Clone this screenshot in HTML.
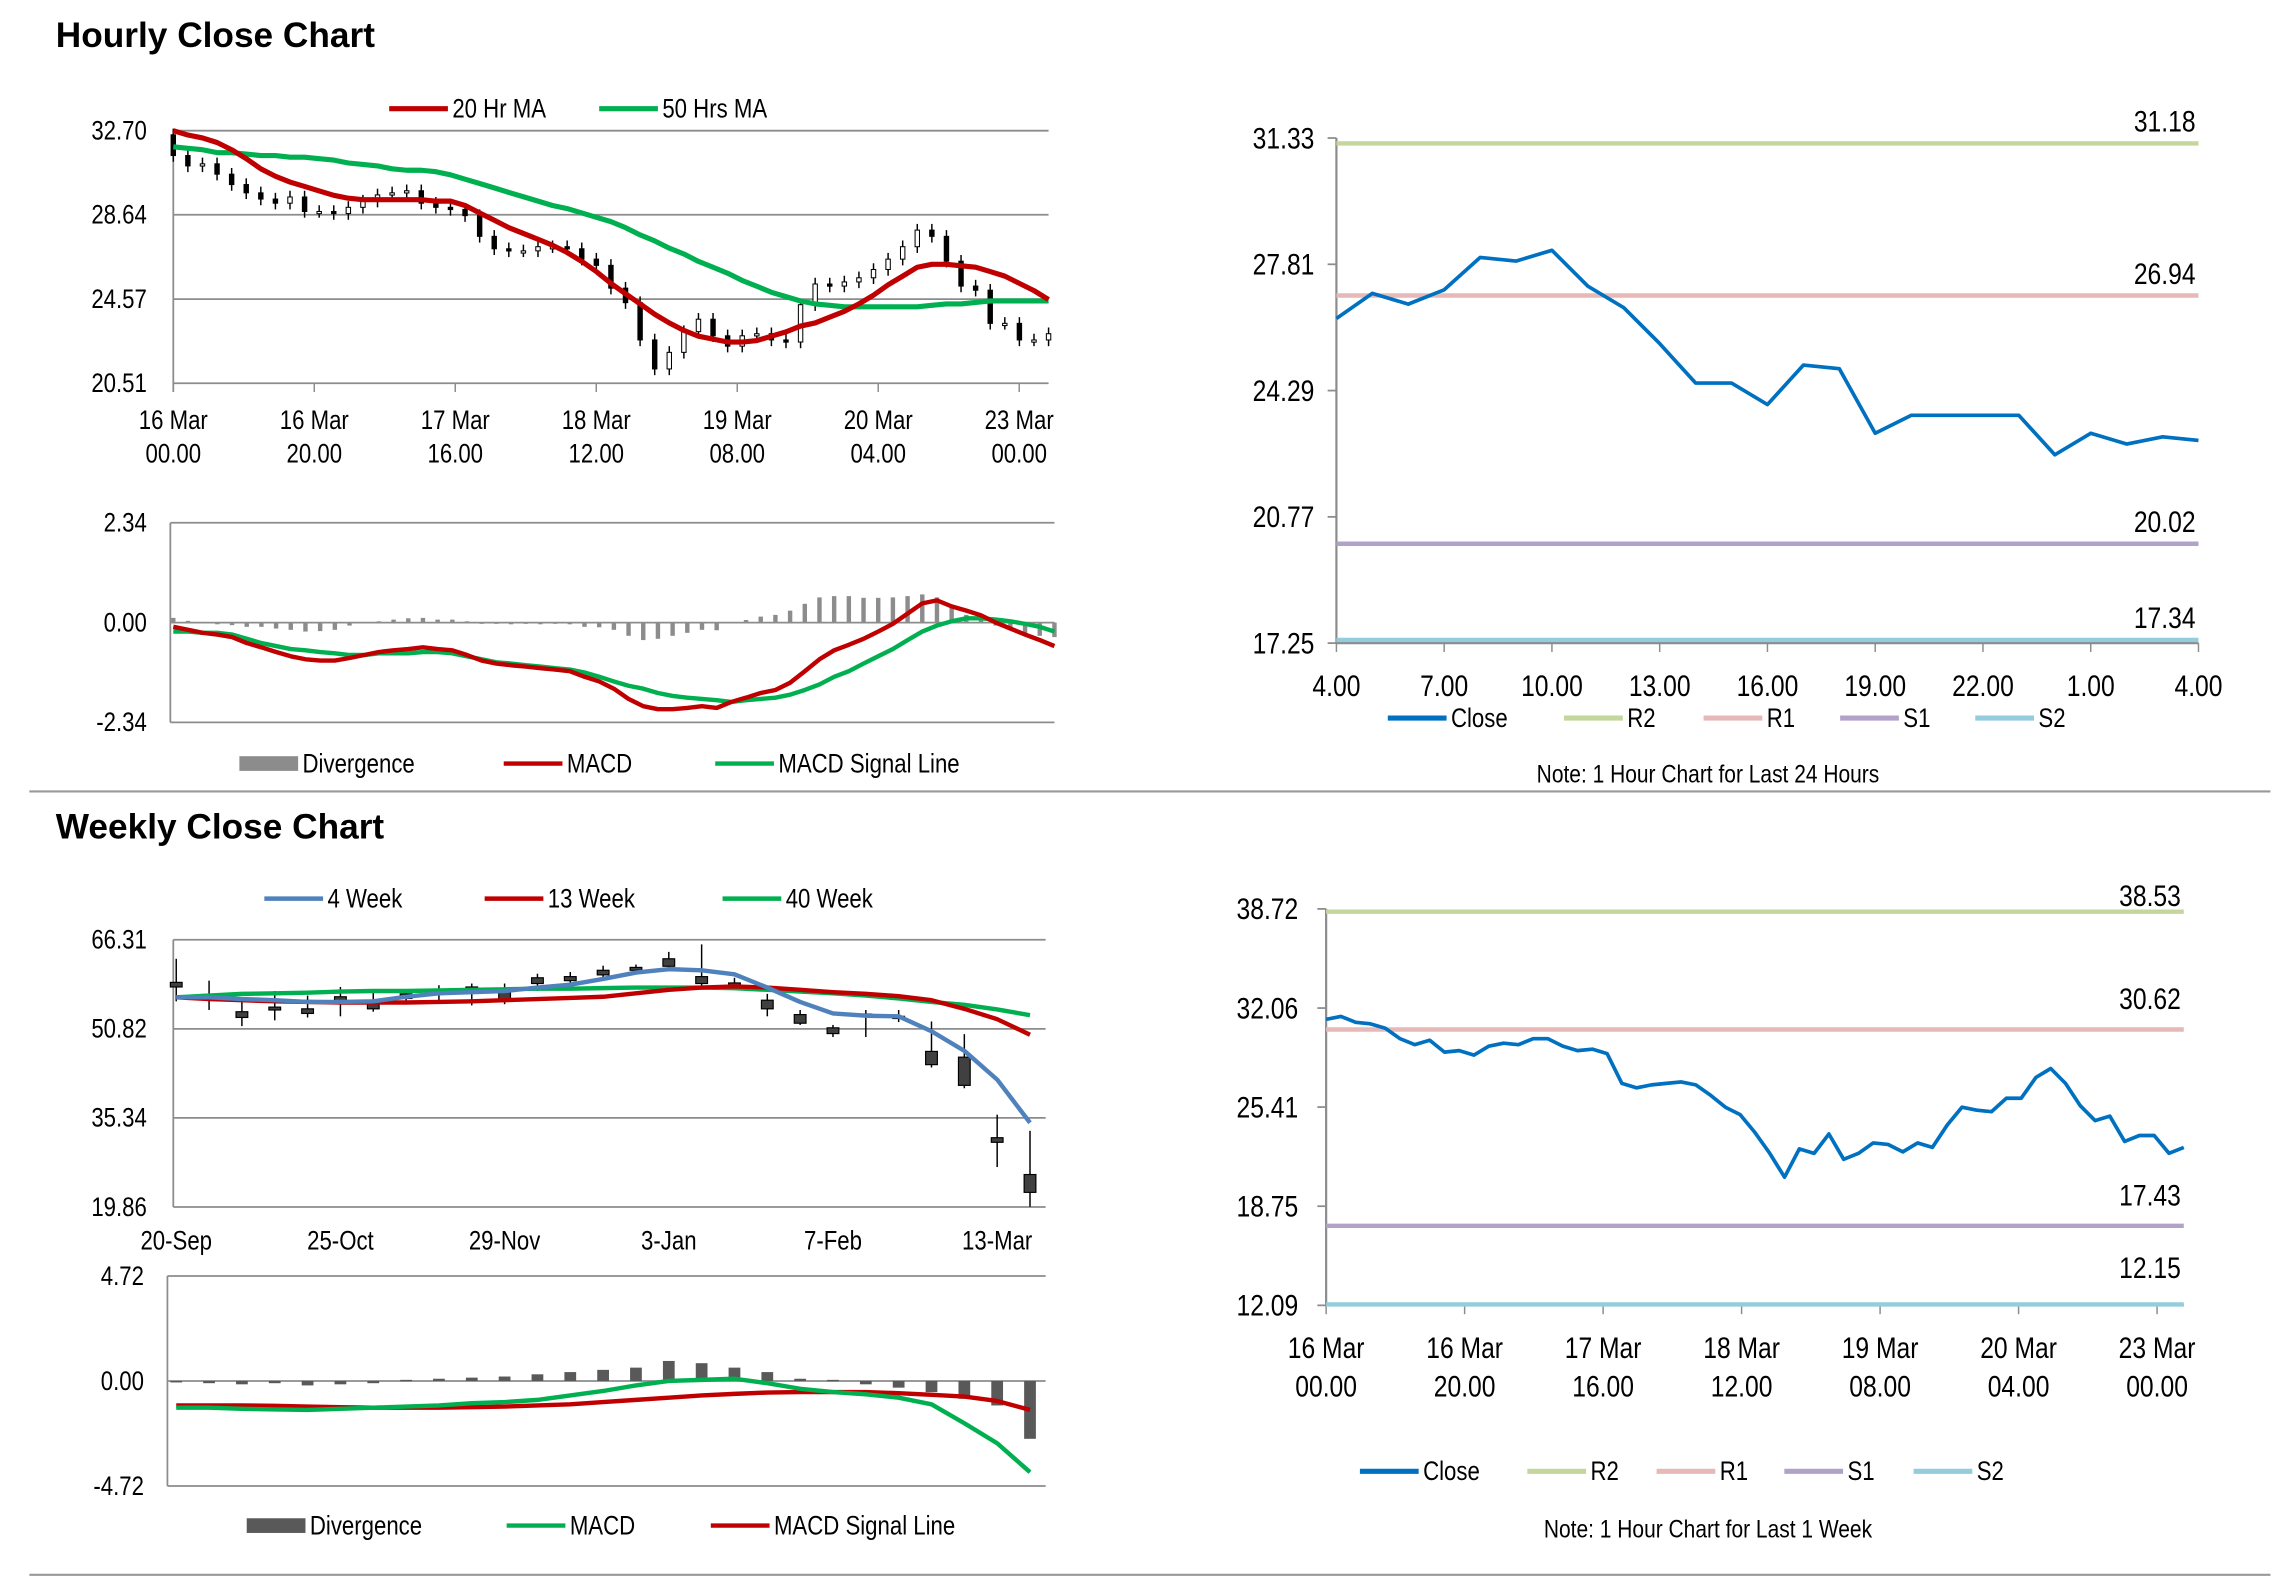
<!DOCTYPE html>
<html><head><meta charset="utf-8"><style>
html,body{margin:0;padding:0;background:#fff;}
svg{display:block;}
text{font-family:"Liberation Sans Narrow","Liberation Sans",sans-serif;fill:#000;}
.t{font-family:"Liberation Sans",sans-serif;font-weight:bold;}
</style></head><body>
<svg id="root" width="2291" height="1577" viewBox="0 0 1560 1074" preserveAspectRatio="none" xmlns="http://www.w3.org/2000/svg"></svg>
<script>
// ---------- DATA ----------
const hourlyDateLabels = ["16 Mar","16 Mar","17 Mar","18 Mar","19 Mar","20 Mar","23 Mar"];
const hourlyTimeLabels = ["00.00","20.00","16.00","12.00","08.00","04.00","00.00"];
const hourlyTicks = [32.70,28.64,24.57,20.51];
const hourlyClose = [31.5,31.0,31.1,30.6,30.1,29.7,29.4,29.2,29.5,28.8,28.8,28.7,29.0,29.3,29.6,29.7,29.8,29.2,29.0,28.9,28.6,27.6,27.0,26.9,26.9,27.1,27.1,27.0,26.5,26.2,25.1,24.4,22.6,21.2,22.0,23.0,23.6,22.8,22.3,22.8,22.9,22.6,22.5,24.3,25.3,25.2,25.4,25.6,26.0,26.5,27.1,27.9,27.6,26.4,25.2,25.0,23.4,23.4,22.6,22.6,22.9];
const ma20 = [32.70,32.49,32.35,32.13,31.78,31.35,30.86,30.50,30.22,30.01,29.79,29.58,29.44,29.37,29.37,29.37,29.37,29.37,29.30,29.30,29.09,28.73,28.38,28.02,27.74,27.46,27.17,26.82,26.39,25.90,25.33,24.83,24.34,23.84,23.42,23.06,22.78,22.64,22.50,22.50,22.57,22.78,22.99,23.27,23.42,23.70,23.98,24.34,24.76,25.26,25.68,26.11,26.25,26.25,26.18,26.11,25.90,25.68,25.33,24.98,24.55];
const ma50 = [31.92,31.85,31.78,31.64,31.64,31.57,31.50,31.50,31.42,31.42,31.35,31.28,31.14,31.07,31.00,30.86,30.79,30.79,30.72,30.57,30.36,30.15,29.94,29.72,29.51,29.30,29.09,28.94,28.73,28.52,28.31,28.02,27.67,27.38,27.03,26.75,26.39,26.11,25.82,25.47,25.19,24.90,24.69,24.48,24.34,24.27,24.20,24.20,24.20,24.20,24.20,24.20,24.27,24.34,24.34,24.41,24.48,24.48,24.48,24.48,24.48];
const hMacdTicks = [2.34,0,-2.34];
const hMacd = [-0.10,-0.17,-0.24,-0.28,-0.34,-0.48,-0.58,-0.69,-0.79,-0.86,-0.89,-0.89,-0.83,-0.76,-0.69,-0.65,-0.62,-0.58,-0.62,-0.65,-0.76,-0.89,-0.96,-1.00,-1.03,-1.07,-1.10,-1.14,-1.27,-1.38,-1.55,-1.79,-1.96,-2.03,-2.03,-2.00,-1.96,-2.00,-1.86,-1.76,-1.65,-1.58,-1.41,-1.14,-0.86,-0.65,-0.52,-0.38,-0.21,-0.03,0.21,0.45,0.52,0.38,0.28,0.17,0.00,-0.14,-0.28,-0.41,-0.55];
const hSignal = [-0.21,-0.21,-0.24,-0.24,-0.28,-0.38,-0.48,-0.55,-0.62,-0.65,-0.69,-0.72,-0.76,-0.76,-0.72,-0.72,-0.72,-0.69,-0.69,-0.72,-0.79,-0.86,-0.93,-0.96,-1.00,-1.03,-1.07,-1.10,-1.17,-1.27,-1.38,-1.48,-1.55,-1.65,-1.72,-1.76,-1.79,-1.82,-1.86,-1.82,-1.79,-1.76,-1.69,-1.58,-1.45,-1.27,-1.14,-0.96,-0.79,-0.62,-0.41,-0.21,-0.07,0.03,0.10,0.10,0.07,0.03,-0.03,-0.10,-0.21];

const dayTicks = [31.33,27.81,24.29,20.77,17.25];
const dayHourLabels = ["4.00","7.00","10.00","13.00","16.00","19.00","22.00","1.00","4.00"];
const dayClose = [26.3,27.0,26.7,27.1,28.0,27.9,28.2,27.2,26.6,25.6,24.5,24.5,23.9,25.0,24.9,23.1,23.6,23.6,23.6,23.6,22.5,23.1,22.8,23.0,22.9];
const dayLevels = [31.18,26.94,20.02,17.34];
const levelNames = ["R2","R1","S1","S2"];

const weekLabels = ["20-Sep","25-Oct","29-Nov","3-Jan","7-Feb","13-Mar"];
const weekTicks = [66.31,50.82,35.34,19.86];
const wOpen  = [58.9,56.8,53.8,54.6,54.3,56.4,55.8,56.9,57.6,58.1,57.9,59.7,59.9,61.0,61.5,63.0,59.9,58.8,55.8,53.3,51.0,53.4,53.0,46.9,45.9,31.9,25.5];
const wClose = [58.1,56.5,52.8,54.1,53.5,55.3,54.3,56.1,56.9,57.4,55.8,58.7,59.2,60.2,61.0,61.7,58.7,58.6,54.3,51.8,50.0,53.2,52.8,44.6,41.0,31.1,22.4];
const wHigh  = [63.0,59.2,56.1,57.4,56.6,58.1,57.6,57.6,58.4,58.7,58.7,60.4,60.7,61.8,62.0,64.2,65.5,59.7,56.9,54.1,51.5,54.1,54.1,52.1,49.9,35.9,33.1];
const wLow   = [55.6,54.1,51.3,52.3,52.8,53.0,53.8,55.1,55.6,54.9,55.1,57.4,58.4,59.7,60.4,60.9,58.1,57.6,53.0,51.5,49.4,49.4,52.0,44.1,40.5,26.8,19.9];
const w4  = [56.3,56.3,56.0,55.8,55.5,55.5,55.6,56.4,57.0,57.2,57.4,58.0,58.5,59.5,60.6,61.2,61.0,60.3,58.0,55.5,53.5,53.1,53.0,50.4,47.0,42.0,34.5];
const w13 = [56.3,56.0,55.8,55.6,55.5,55.4,55.4,55.4,55.5,55.6,55.8,56.0,56.2,56.4,57.0,57.6,58.0,58.2,58.0,57.6,57.2,56.9,56.5,55.8,54.3,52.5,49.8];
const w40 = [56.3,56.6,56.9,57.0,57.1,57.3,57.4,57.4,57.5,57.6,57.7,57.8,57.8,57.9,58.0,58.0,58.0,57.9,57.6,57.3,57.0,56.6,56.1,55.5,55.0,54.2,53.2];
const wMacdTicks = [4.72,0,-4.72];
const wDiv = [-0.05,-0.1,-0.15,-0.1,-0.2,-0.15,-0.1,0.05,0.1,0.15,0.2,0.3,0.4,0.5,0.6,0.9,0.8,0.6,0.4,0.1,0.05,-0.15,-0.3,-0.5,-0.8,-1.1,-2.6];
const wMacd = [-1.2,-1.2,-1.25,-1.28,-1.3,-1.25,-1.2,-1.15,-1.1,-1.0,-0.95,-0.85,-0.65,-0.45,-0.2,0.0,0.05,0.1,-0.1,-0.35,-0.5,-0.6,-0.75,-1.05,-1.9,-2.8,-4.1];
const wSignal = [-1.1,-1.1,-1.1,-1.12,-1.15,-1.18,-1.2,-1.2,-1.2,-1.18,-1.15,-1.1,-1.05,-0.95,-0.85,-0.75,-0.65,-0.58,-0.52,-0.5,-0.5,-0.5,-0.55,-0.62,-0.7,-0.9,-1.3];

const weekHourTicks = [38.72,32.06,25.41,18.75,12.09];
const weekHourClose = [31.3,31.5,31.1,31.0,30.7,30.0,29.6,29.9,29.1,29.2,28.9,29.5,29.7,29.6,30.0,30.0,29.5,29.2,29.3,29.0,27.0,26.7,26.9,27.0,27.1,26.9,26.2,25.4,24.9,23.7,22.3,20.7,22.6,22.3,23.6,21.9,22.3,23.0,22.9,22.4,23.0,22.7,24.2,25.4,25.2,25.1,26.0,26.0,27.4,28.0,27.0,25.5,24.5,24.8,23.1,23.5,23.5,22.3,22.7];
const weekLevels = [38.53,30.62,17.43,12.15];

// ---------- HELPERS ----------
const NS = "http://www.w3.org/2000/svg";
const root = document.getElementById('root');
function mk(tag, attrs, parent){ const e=document.createElementNS(NS,tag); for(const k in attrs) e.setAttribute(k,attrs[k]); (parent||root).appendChild(e); return e; }
function txt(x,y,s,size,anchor,parent){ const e=mk('text',{x:0,y:0,transform:'translate('+x+','+y+') scale(0.84,1)','font-size':size,'text-anchor':anchor||'start'},parent); e.textContent=s; return e; }
function poly(pts,color,w,parent){ return mk('polyline',{points:pts.join(' '),fill:'none',stroke:color,'stroke-width':w,'stroke-linejoin':'round'},parent); }
const GRID='#8c8c8c', RED='#c00000', GREEN='#00b050', BLUE='#0070c0', LBLUE='#4f81bd';
const LVL=['#c3d69b','#e6b9b8','#b3a2c7','#93cddd'];

let e;
e=mk('text',{x:38,y:32,'font-size':24,'class':'t'}); e.textContent="Hourly Close Chart";


e=mk('text',{x:38,y:571,'font-size':24,'class':'t'}); e.textContent="Weekly Close Chart";


e=mk('line',{x1:20,y1:539,x2:1546,y2:539,stroke:'#999','stroke-width':1.5});


e=mk('line',{x1:20,y1:1072.5,x2:1546,y2:1072.5,stroke:'#999','stroke-width':1.5});



function legendItem(g,x,y,color,label,w,isRect){
  let m;
  if(isRect){ m=mk('rect',{x:x,y:y-5,width:40,height:10,fill:color},g); }
  else { m=mk('line',{x1:x,y1:y,x2:x+40,y2:y,stroke:color,'stroke-width':w},g); }
  
  
  const t=txt(x+43,y+6,label,18,'start',g);
  
  
}

// ---------- CHART A ----------
(function(){
  const g=mk('g',{});
  
  
  const x0=118,x1=714,yt=89,yb=261,vmax=hourlyTicks[0],vmin=hourlyTicks[hourlyTicks.length-1];
  const Y=v=>yt+(vmax-v)/(vmax-vmin)*(yb-yt);
  const X=i=>x0+i*(x1-x0)/(hourlyClose.length-1);
  hourlyTicks.forEach(v=>{
    const l=mk('line',{x1:x0,y1:Y(v),x2:x1,y2:Y(v),stroke:GRID,'stroke-width':1.2},g);
    
    
    const t=txt(100,Y(v)+6,v.toFixed(2),18,'end',g);
    
    
  });
  let ax=mk('line',{x1:x0,y1:yt,x2:x0,y2:yb+6,stroke:GRID,'stroke-width':1.2},g);
  
  
  hourlyDateLabels.forEach((s,k)=>{
    const x=x0+k*96;
    const tk=mk('line',{x1:x,y1:yb,x2:x,y2:yb+6,stroke:GRID},g);
    
    
    const t=txt(x,292,s,18,'middle',g);
    
    
    const t2=txt(x,315,hourlyTimeLabels[k],18,'middle',g);
    
    
  });
  hourlyClose.forEach((c,i)=>{
    const o=i===0?32.5:hourlyClose[i-1];
    const hi=Math.max(o,c)+0.3, lo=Math.min(o,c)-0.3;
    const w=mk('line',{x1:X(i),y1:Y(hi),x2:X(i),y2:Y(lo),stroke:'#000','stroke-width':1},g);
    
    
    const top=Y(Math.max(o,c)), h=Math.max(1.5,Math.abs(Y(o)-Y(c)));
    const b=mk('rect',{x:X(i)-1.5,y:top,width:3,height:h,fill:c>=o?'#fff':'#000',stroke:'#000','stroke-width':0.7},g);
    
    
  });
  let p=poly(ma50.map((v,i)=>X(i)+','+Y(v)),GREEN,3.5,g);
  
  
  p=poly(ma20.map((v,i)=>X(i)+','+Y(v)),RED,3.5,g);
  
  
  legendItem(g,265,74,RED,"20 Hr MA",3.5);
  legendItem(g,408,74,GREEN,"50 Hrs MA",3.5);
})();

// ---------- CHART B ----------
(function(){
  const g=mk('g',{});
  
  
  const x0=118,x1=718,yt=356,yb=492,vmax=hMacdTicks[0],vmin=hMacdTicks[2];
  const Y=v=>yt+(vmax-v)/(vmax-vmin)*(yb-yt);
  const X=i=>x0+i*(x1-x0)/(hMacd.length-1);
  hMacdTicks.forEach(v=>{
    const l=mk('line',{x1:116,y1:Y(v),x2:x1,y2:Y(v),stroke:GRID,'stroke-width':1.2},g);
    
    
    const t=txt(100,Y(v)+6,v.toFixed(2),18,'end',g);
    
    
  });
  let ax=mk('line',{x1:116,y1:yt,x2:116,y2:yb,stroke:GRID,'stroke-width':1.2},g);
  
  
  hMacd.forEach((v,i)=>{
    const d=v-hSignal[i];
    const b=mk('rect',{x:X(i)-1.5,y:Math.min(Y(0),Y(d)),width:3,height:Math.abs(Y(d)-Y(0)),fill:'#8c8c8c'},g);
    
    
  });
  let p=poly(hSignal.map((v,i)=>X(i)+','+Y(v)),GREEN,3,g);
  
  
  p=poly(hMacd.map((v,i)=>X(i)+','+Y(v)),RED,3,g);
  
  
  legendItem(g,163,520,'#8c8c8c',"Divergence",0,true);
  legendItem(g,343,520,RED,"MACD",3);
  legendItem(g,487,520,GREEN,"MACD Signal Line",3);
})();

// ---------- Level chart builder ----------
function levelChart(name,x0,x1,yt,yb,ticks,series,levels,levelLabelDy,xLabelsFn,legendY,legendXs,note,noteY,tickLabelX){
  const g=mk('g',{});
  
  
  const vmax=ticks[0],vmin=ticks[ticks.length-1];
  const Y=v=>yt+(vmax-v)/(vmax-vmin)*(yb-yt);
  const X=i=>x0+i*(x1-x0)/(series.length-1);
  ticks.forEach(v=>{
    const tk=mk('line',{x1:x0-6,y1:Y(v),x2:x0,y2:Y(v),stroke:GRID,'stroke-width':1.2},g);
    
    
    const t=txt(tickLabelX,Y(v)+7,v.toFixed(2),20,'end',g);
    
    
  });
  let ax=mk('line',{x1:x0,y1:yt,x2:x0,y2:yb,stroke:GRID,'stroke-width':1.5},g);
  
  
  ax=mk('line',{x1:x0,y1:yb,x2:x1,y2:yb,stroke:GRID,'stroke-width':1.5},g);
  
  
  xLabelsFn(g,yb);
  levels.forEach((v,k)=>{
    const l=mk('line',{x1:x0,y1:Y(v),x2:x1,y2:Y(v),stroke:LVL[k],'stroke-width':3},g);
    
    
    const t=txt(x1-2,Y(v)-levelLabelDy[k],v.toFixed(2),20,'end',g);
    
    
  });
  const p=poly(series.map((v,i)=>X(i)+','+Y(v)),BLUE,2.5,g);
  
  
  legendItem(g,legendXs[0],legendY,BLUE,"Close",3.5);
  levelNames.forEach((n,k)=>legendItem(g,legendXs[k+1],legendY,LVL[k],n,3.5));
  const nt=txt(1163,noteY,note,17,'middle',g);
  
  
}

levelChart('daily-level-chart',910,1497,94,438,dayTicks,dayClose,dayLevels,[8,8,8,8],
  function(g,yb){
    dayHourLabels.forEach((s,k)=>{
      const x=910+k*(587/(dayHourLabels.length-1));
      const tk=mk('line',{x1:x,y1:yb,x2:x,y2:yb+6,stroke:GRID},g);
      
      
      const t=txt(x,474,s,20,'middle',g);
      
      
    });
  },489,[945,1065,1160,1253,1345],"Note: 1 Hour Chart for Last 24 Hours",533,895);

levelChart('weekly-hourly-level-chart',903,1487,619,889,weekHourTicks,weekHourClose,weekLevels,[4,14,14,18],
  function(g,yb){
    hourlyDateLabels.forEach((s,k)=>{
      const x=903+k*94.3;
      const tk=mk('line',{x1:x,y1:yb,x2:x,y2:yb+6,stroke:GRID},g);
      
      
      const t=txt(x,925,s,20,'middle',g);
      
      
      const t2=txt(x,951,hourlyTimeLabels[k],20,'middle',g);
      
      
    });
  },1002,[926,1040,1128,1215,1303],"Note: 1 Hour Chart for Last 1 Week",1047,884);

// ---------- CHART D ----------
(function(){
  const g=mk('g',{});
  
  
  const x0=118,x1=712,yt=640,yb=822,vmax=weekTicks[0],vmin=weekTicks[3];
  const Y=v=>yt+(vmax-v)/(vmax-vmin)*(yb-yt);
  const X=i=>120+i*22.36;
  weekTicks.forEach(v=>{
    const l=mk('line',{x1:x0,y1:Y(v),x2:x1,y2:Y(v),stroke:GRID,'stroke-width':1.2},g);
    
    
    const t=txt(100,Y(v)+6,v.toFixed(2),18,'end',g);
    
    
  });
  let ax=mk('line',{x1:x0,y1:yt,x2:x0,y2:yb,stroke:GRID,'stroke-width':1.2},g);
  
  
  weekLabels.forEach((s,k)=>{
    const t=txt(X(k*5),851,s,18,'middle',g);
    
    
  });
  wOpen.forEach((o,i)=>{
    const c=wClose[i];
    const w=mk('line',{x1:X(i),y1:Y(wHigh[i]),x2:X(i),y2:Y(wLow[i]),stroke:'#000','stroke-width':1},g);
    
    
    const top=Y(Math.max(o,c)),h=Math.max(1.5,Math.abs(Y(o)-Y(c)));
    const b=mk('rect',{x:X(i)-4,y:top,width:8,height:h,fill:c>=o?'#fff':'#404040',stroke:'#000','stroke-width':0.8},g);
    
    
  });
  let p=poly(w40.map((v,i)=>X(i)+','+Y(v)),GREEN,3,g);
  
  
  p=poly(w13.map((v,i)=>X(i)+','+Y(v)),RED,3,g);
  
  
  p=poly(w4.map((v,i)=>X(i)+','+Y(v)),LBLUE,3,g);
  
  
  legendItem(g,180,612,LBLUE,"4 Week",3);
  legendItem(g,330,612,RED,"13 Week",3);
  legendItem(g,492,612,GREEN,"40 Week",3);
})();

// ---------- CHART E ----------
(function(){
  const g=mk('g',{});
  
  
  const x1=712,yt=869,yb=1012,vmax=wMacdTicks[0],vmin=wMacdTicks[2];
  const Y=v=>yt+(vmax-v)/(vmax-vmin)*(yb-yt);
  const X=i=>120+i*22.36;
  wMacdTicks.forEach(v=>{
    const l=mk('line',{x1:114,y1:Y(v),x2:x1,y2:Y(v),stroke:GRID,'stroke-width':1.2},g);
    
    
    const t=txt(98,Y(v)+6,v.toFixed(2),18,'end',g);
    
    
  });
  let ax=mk('line',{x1:114,y1:yt,x2:114,y2:yb,stroke:GRID,'stroke-width':1.2},g);
  
  
  wDiv.forEach((d,i)=>{
    const b=mk('rect',{x:X(i)-4,y:Math.min(Y(0),Y(d)),width:8,height:Math.max(1,Math.abs(Y(d)-Y(0))),fill:'#595959'},g);
    
    
  });
  let p=poly(wSignal.map((v,i)=>X(i)+','+Y(v)),RED,3,g);
  
  
  p=poly(wMacd.map((v,i)=>X(i)+','+Y(v)),GREEN,3,g);
  
  
  legendItem(g,168,1039,'#595959',"Divergence",0,true);
  legendItem(g,345,1039,GREEN,"MACD",3);
  legendItem(g,484,1039,RED,"MACD Signal Line",3);
})();
</script>
</body></html>
